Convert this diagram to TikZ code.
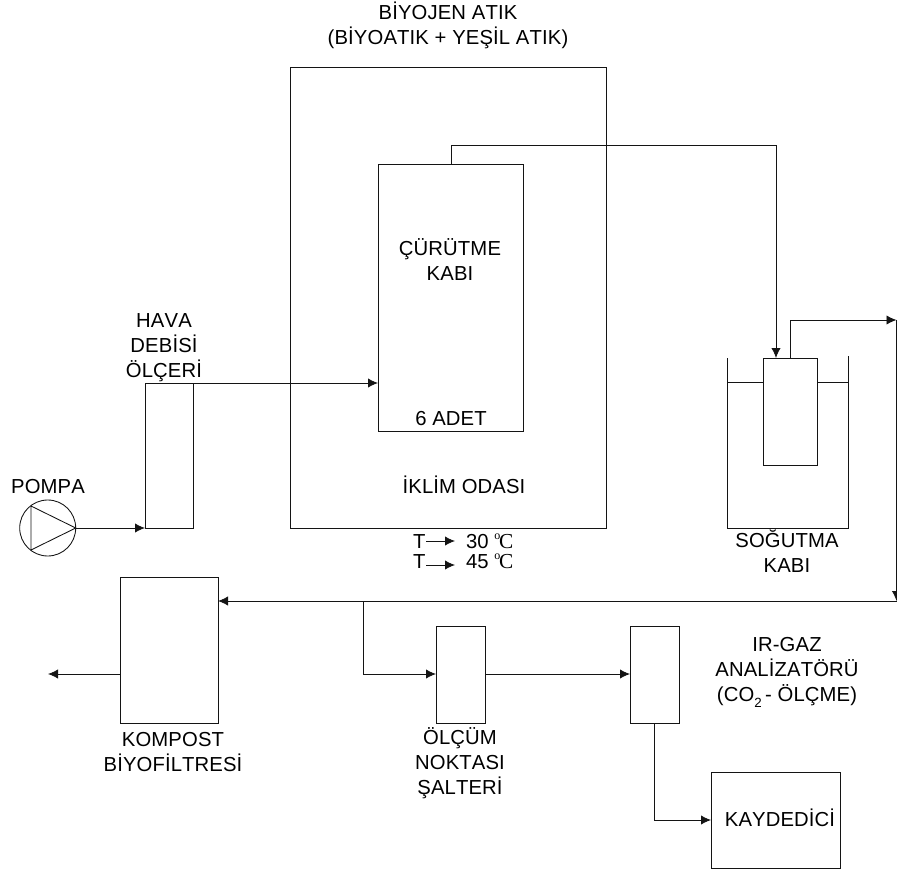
\documentclass[tikz,border=0pt]{standalone}
\usepackage{fontspec}
\setmainfont[Kerning=Off,LetterSpace=0.6]{Liberation Sans}
\newfontfamily\serifdeg{Liberation Serif}
\usetikzlibrary{arrows.meta}
\newcommand{\boxat}[5]{% name x1 y1 x2 y2 (pixels)
  \node[unit box, minimum width={(#4-#2)*0.75pt}, minimum height={(#5-#3)*0.75pt}] (#1) at ({(#2+#4)/2},{(#3+#5)/2}) {};}
\newcommand{\degC}{{\serifdeg\raisebox{0.42em}{\fontsize{9pt}{9pt}\selectfont o}\kern-1pt\fontsize{16pt}{15pt}\selectfont C}}
\tikzset{
  unit box/.style={draw=linecol, rectangle, inner sep=0pt, outer sep=0pt},
  flow/.style={draw=linecol, -{Latex[length=7.5pt,width=7pt]}},
  pipe/.style={draw=linecol},
  label text/.style={inner sep=0pt, outer sep=0pt, anchor=base, align=center, text=black,
    font=\fontsize{15.2pt}{18.5pt}\selectfont},
  temp text/.style={inner sep=0pt, outer sep=0pt, anchor=base west, align=left, text=black,
    font=\fontsize{15.2pt}{15pt}\selectfont},
}
\definecolor{linecol}{gray}{0.08}
\begin{document}
\begin{tikzpicture}[x=0.75pt,y=-0.75pt,line width=0.65pt]
\useasboundingbox (0,0) rectangle (897,871);
% boxes
\boxat{oda}{290}{67}{606}{528}
\boxat{kap}{378}{164}{523}{431}
\boxat{hava}{145}{383}{193}{528}
\boxat{vessel}{763}{358}{817}{465}
\boxat{filtre}{120}{577}{218}{723}
\boxat{salter}{436}{626}{485}{723}
\boxat{ir}{630}{626}{679}{723}
\boxat{kayit}{711}{772}{840}{868}
% pump
\node[draw=linecol, circle, inner sep=0pt, outer sep=0pt, minimum size=42pt] (pompa) at (47.7,528) {};
\draw[pipe, line join=miter] (31,506) -- (31,550) -- (pompa.east) -- cycle;
% tank
\coordinate (tankTL) at (727,358);
\coordinate (tankBL) at (727,528);
\coordinate (tankBR) at (848,528);
\coordinate (tankTR) at (848,356);
\draw[pipe] (tankTL) -- (tankBL) -- (tankBR) -- (tankTR);
\coordinate (waterL) at (727,382);
\coordinate (waterR) at (848,382);
\draw[pipe] (waterL) -- (waterL -| vessel.west);
\draw[pipe] (vessel.east |- waterR) -- (waterR);
% connectors
\draw[flow] (pompa.east) -- (hava.south west);
\draw[flow] (hava.north east) -- (kap.west |- hava.north east);
\coordinate (kapOut) at (451,164);
\coordinate (vesIn) at (776,358);
\coordinate (topY) at (451,145);
\draw[flow] (kapOut) -- (topY) -- (topY -| vesIn) -- (vesIn);
\coordinate (vesOut) at (790,358);
\coordinate (upY) at (790,320);
\coordinate (rightTop) at (896.5,320);
\coordinate (rightBot) at (896.5,601);
\draw[flow] (vesOut) -- (upY) -- (rightTop);
\draw[flow] (rightTop) -- (rightBot);
\draw[flow] (rightBot) -- (filtre.east |- rightBot);
\coordinate (branch) at (363,601);
\coordinate (branchLow) at (363,674);
\draw[flow] (branch) -- (branchLow) -- (salter.west |- branchLow);
\draw[flow] (salter.east |- branchLow) -- (ir.west |- branchLow);
\coordinate (exit) at (48,674);
\draw[flow] (filtre.west |- exit) -- (exit);
\coordinate (irLow) at (654,820);
\draw[flow] (ir.south -| irLow) -- (irLow) -- (kayit.west |- irLow);
% labels
\node[label text] (tBiyojen) at (448,44) {BİYOJEN ATIK\\(BİYOATIK + YEŞİL ATIK)};
\node[label text] (tHava) at (164,377) {HAVA\\DEBİSİ\\ÖLÇERİ};
\node[label text] (tPompa) at (48,493) {POMPA};
\node[label text] (tCurutme) at (450,280) {ÇÜRÜTME\\KABI};
\node[label text] (tAdet) at (451,425) {6 ADET};
\node[label text] (tIklim) at (464,493) {İKLİM ODASI};
\node[temp text] (tT) at (413,568) {T\\T};
\node[temp text] (tVal) at (466,568) {30 \degC\\45 \degC};
\coordinate (a1s) at (426,541);
\coordinate (a1e) at (455,541);
\coordinate (a2s) at (426,565);
\coordinate (a2e) at (455,565);
\draw[flow] (a1s) -- (a1e);
\draw[flow] (a2s) -- (a2e);
\node[label text] (tSogutma) at (787,572) {SOĞUTMA\\KABI};
\node[label text] (tKompost) at (173,771) {KOMPOST\\BİYOFİLTRESİ};
\node[label text] (tOlcum) at (460,794) {ÖLÇÜM\\NOKTASI\\ŞALTERİ};
\node[label text] (tIr) at (787,701) {IR-GAZ\\ANALİZATÖRÜ\\(CO\raisebox{-5pt}{\fontsize{10pt}{10pt}\selectfont 2}\,- ÖLÇME)};
\node[label text] (tKayit) at (780,826) {KAYDEDİCİ};
\end{tikzpicture}
\end{document}
